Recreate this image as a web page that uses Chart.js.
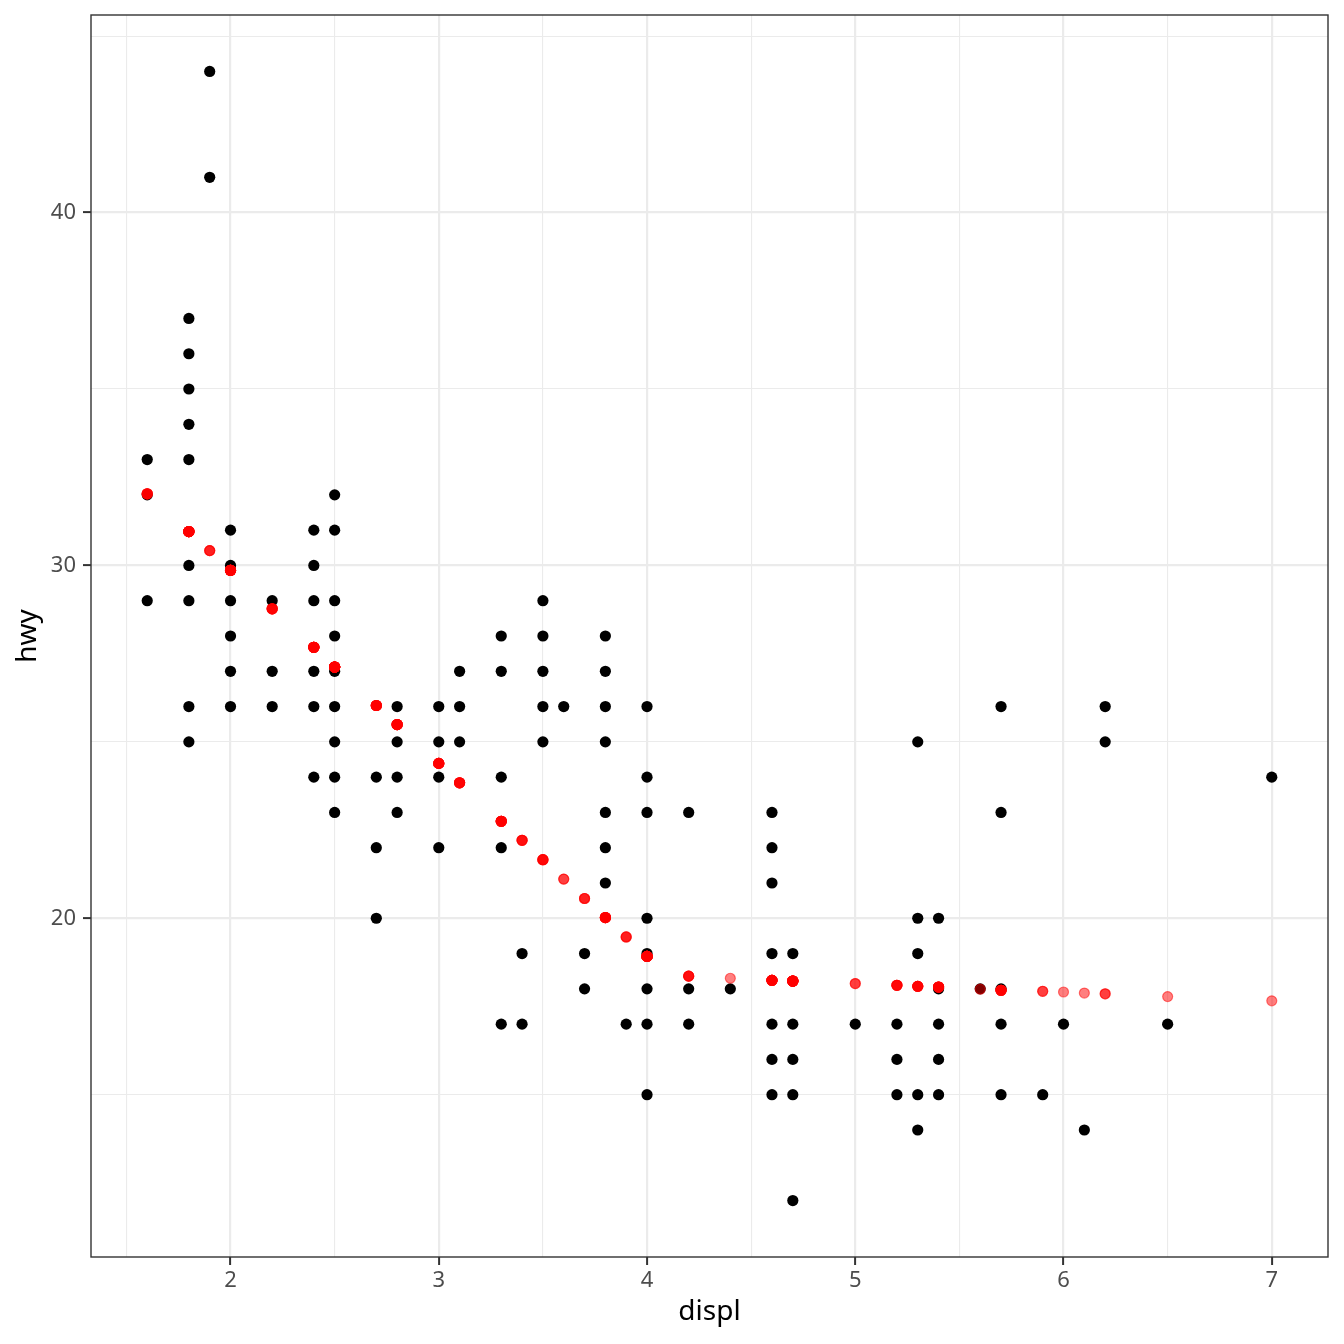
<!DOCTYPE html>
<html>
<head>
<meta charset="utf-8">
<script src="https://cdn.jsdelivr.net/npm/chart.js@4/dist/chart.umd.min.js"></script>
<style>
  body { margin: 0; background: #fff; }
  #wrap { width: 1344px; height: 1344px; }
</style>
</head>
<body>
<div id="wrap"><canvas id="plot" width="1344" height="1344"></canvas></div>
<script>
// observed cars (displ, hwy), one entry per visible dot
const displ = [
  1.6, 1.6, 1.6,
  1.8, 1.8, 1.8, 1.8, 1.8, 1.8, 1.8, 1.8, 1.8,
  1.9, 1.9,
  2.0, 2.0, 2.0, 2.0, 2.0, 2.0,
  2.2, 2.2, 2.2,
  2.4, 2.4, 2.4, 2.4, 2.4, 2.4,
  2.5, 2.5, 2.5, 2.5, 2.5, 2.5, 2.5, 2.5, 2.5,
  2.7, 2.7, 2.7,
  2.8, 2.8, 2.8, 2.8,
  3.0, 3.0, 3.0, 3.0,
  3.1, 3.1, 3.1,
  3.3, 3.3, 3.3, 3.3, 3.3,
  3.4, 3.4,
  3.5, 3.5, 3.5, 3.5, 3.5,
  3.6,
  3.7, 3.7,
  3.8, 3.8, 3.8, 3.8, 3.8, 3.8, 3.8,
  3.9,
  4.0, 4.0, 4.0, 4.0, 4.0, 4.0, 4.0, 4.0,
  4.2, 4.2, 4.2,
  4.4,
  4.6, 4.6, 4.6, 4.6, 4.6, 4.6, 4.6,
  4.7, 4.7, 4.7, 4.7, 4.7,
  5.0,
  5.2, 5.2, 5.2,
  5.3, 5.3, 5.3, 5.3, 5.3,
  5.4, 5.4, 5.4, 5.4, 5.4,
  5.6,
  5.7, 5.7, 5.7, 5.7, 5.7,
  5.9, 6.0, 6.1,
  6.2, 6.2,
  6.5, 7.0
];
const hwy = [
  33, 32, 29,
  37, 36, 35, 34, 33, 30, 29, 26, 25,
  44, 41,
  31, 30, 29, 28, 27, 26,
  29, 27, 26,
  31, 30, 29, 27, 26, 24,
  32, 31, 29, 28, 27, 26, 25, 24, 23,
  24, 22, 20,
  26, 25, 24, 23,
  26, 25, 24, 22,
  27, 26, 25,
  28, 27, 24, 22, 17,
  19, 17,
  29, 28, 27, 26, 25,
  26,
  19, 18,
  28, 27, 26, 25, 23, 22, 21,
  17,
  26, 24, 23, 20, 19, 18, 17, 15,
  23, 18, 17,
  18,
  23, 22, 21, 19, 17, 16, 15,
  19, 17, 16, 15, 12,
  17,
  17, 16, 15,
  25, 20, 19, 15, 14,
  20, 18, 17, 16, 15,
  18,
  26, 23, 18, 17, 15,
  15, 17, 14,
  26, 25,
  17, 24
];

// fitted hwy at each displ, and how many cars share that displ
const fitDispl = [1.6, 1.8, 1.9, 2.0, 2.2, 2.4, 2.5, 2.7, 2.8, 3.0, 3.1, 3.3, 3.4, 3.5, 3.6, 3.7, 3.8, 3.9,
  4.0, 4.2, 4.4, 4.6, 4.7, 5.0, 5.2, 5.3, 5.4, 5.6, 5.7, 5.9, 6.0, 6.1, 6.2, 6.5, 7.0];
const fitHwy = [32.03, 30.96, 30.42, 29.86, 28.77, 27.68, 27.12, 26.03, 25.49, 24.39, 23.84, 22.75, 22.21,
  21.66, 21.11, 20.56, 20.02, 19.47, 18.92, 18.36, 18.30, 18.24, 18.22, 18.15, 18.10, 18.07, 18.05,
  17.99, 17.96, 17.93, 17.91, 17.88, 17.86, 17.78, 17.66];
const fitCount = [5, 14, 3, 21, 6, 13, 20, 8, 10, 8, 6, 9, 4, 5, 2, 3, 8, 3, 15, 4, 1, 11, 17, 2, 5, 6, 8,
  1, 8, 2, 1, 1, 2, 1, 1];

const xTicks = [2, 3, 4, 5, 6, 7];
const yTicks = [20, 30, 40];

const carPoints = displ.map((d, i) => ({ x: d, y: hwy[i] }));

// one red dot per car, so overlapping half-transparent dots stack up like the original
const fitPoints = [];
fitDispl.forEach((d, i) => {
  for (let k = 0; k < fitCount[i]; k++) fitPoints.push({ x: d, y: fitHwy[i] });
});

const FONT = "'Noto Sans', 'Open Sans', sans-serif";

function isMajor(axisTicks, v) {
  return axisTicks.some(t => Math.abs(t - v) < 1e-6);
}

// ggplot-style panel border on all four sides
const panelBorder = {
  id: 'panelBorder',
  afterDraw(chart) {
    const { ctx, chartArea: a } = chart;
    ctx.save();
    ctx.strokeStyle = '#333333';
    ctx.lineWidth = 1.4;
    ctx.strokeRect(a.left, a.top, a.right - a.left, a.bottom - a.top);
    ctx.restore();
  }
};

const ctx = document.getElementById('plot').getContext('2d');
new Chart(ctx, {
  type: 'scatter',
  data: {
    datasets: [
      {
        label: 'fit',
        data: fitPoints,
        order: 0,
        pointRadius: 5,
        pointBorderWidth: 1.2,
        backgroundColor: 'rgba(255, 0, 0, 0.5)',
        borderColor: 'rgba(255, 0, 0, 0.5)'
      },
      {
        label: 'cars',
        data: carPoints,
        order: 1,
        pointRadius: 5.6,
        pointBorderWidth: 0,
        backgroundColor: '#000000',
        borderColor: '#000000'
      }
    ]
  },
  options: {
    responsive: false,
    animation: false,
    devicePixelRatio: 1,
    layout: { padding: { top: 15, right: 16, left: 0, bottom: 0 } },
    plugins: {
      legend: { display: false },
      tooltip: { enabled: false }
    },
    scales: {
      x: {
        type: 'linear',
        min: 1.33,
        max: 7.27,
        afterFit: s => { s.height = 87; s.paddingLeft = 0; s.paddingRight = 0; },
        ticks: {
          stepSize: 0.5,
          includeBounds: false,
          autoSkip: false,
          maxRotation: 0,
          padding: 3,
          color: '#4d4d4d',
          font: { family: FONT, size: 22 },
          callback: v => isMajor(xTicks, v) ? String(v) : ''
        },
        grid: {
          color: '#ebebeb',
          lineWidth: c => isMajor(xTicks, c.tick.value) ? 2.2 : 1.1,
          tickLength: 8,
          tickWidth: 2,
          tickColor: c => isMajor(xTicks, c.tick.value) ? '#333333' : 'rgba(0,0,0,0)'
        },
        border: { display: false },
        title: {
          display: true,
          text: 'displ',
          color: '#000000',
          font: { family: FONT, size: 28 },
          padding: { top: 0, bottom: 15 }
        }
      },
      y: {
        type: 'linear',
        min: 10.4,
        max: 45.6,
        afterFit: s => { s.width = 91; s.paddingTop = 0; s.paddingBottom = 0; },
        ticks: {
          stepSize: 5,
          includeBounds: false,
          autoSkip: false,
          padding: 7,
          color: '#4d4d4d',
          font: { family: FONT, size: 22 },
          callback: v => isMajor(yTicks, v) ? String(v) : ''
        },
        grid: {
          color: '#ebebeb',
          lineWidth: c => isMajor(yTicks, c.tick.value) ? 2.2 : 1.1,
          tickLength: 8,
          tickWidth: 2,
          tickColor: c => isMajor(yTicks, c.tick.value) ? '#333333' : 'rgba(0,0,0,0)'
        },
        border: { display: false },
        title: {
          display: true,
          text: 'hwy',
          color: '#000000',
          font: { family: FONT, size: 28 },
          padding: { top: 11, bottom: 0 }
        }
      }
    }
  },
  plugins: [panelBorder]
});
</script>
</body>
</html>
